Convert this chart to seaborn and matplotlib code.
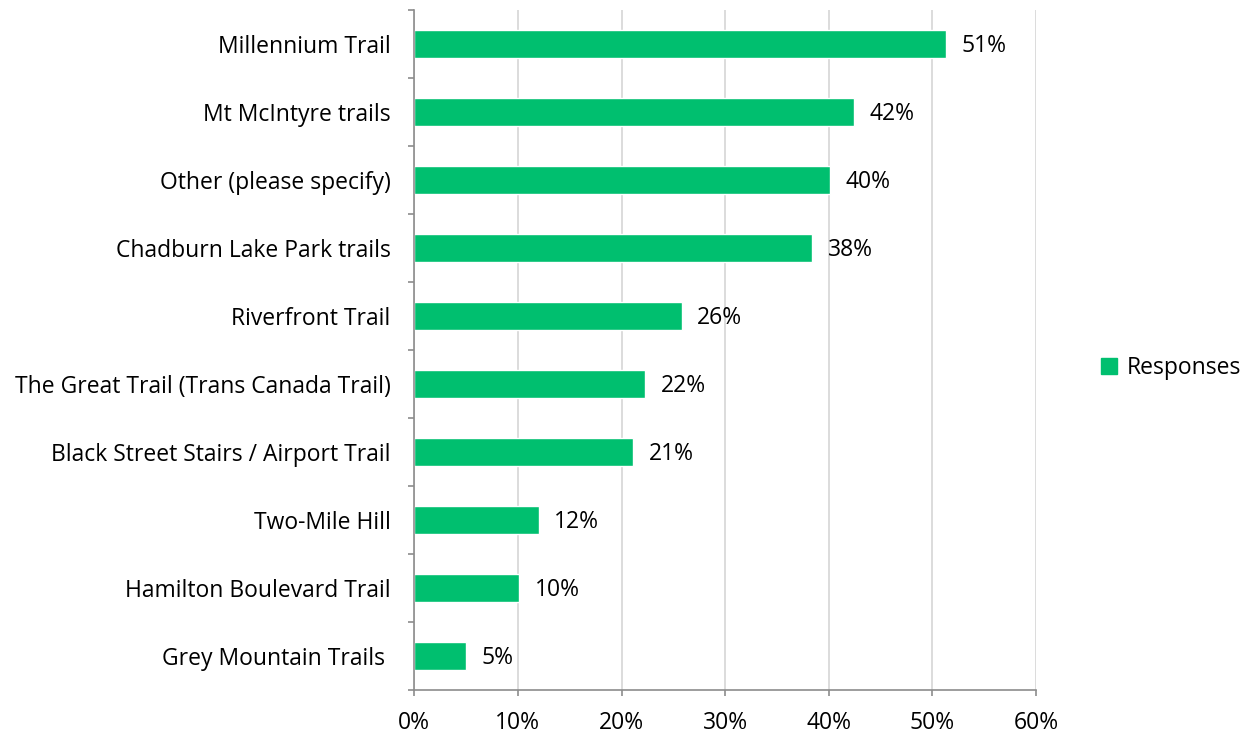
import matplotlib
matplotlib.use("Agg")
import matplotlib.pyplot as plt
import seaborn as sns
import pandas as pd
import numpy as np
from matplotlib.ticker import FixedLocator, PercentFormatter
from matplotlib.patches import Patch

categories = [
    "Millennium Trail",
    "Mt McIntyre trails",
    "Other (please specify)",
    "Chadburn Lake Park trails",
    "Riverfront Trail",
    "The Great Trail (Trans Canada Trail)",
    "Black Street Stairs / Airport Trail",
    "Two-Mile Hill",
    "Hamilton Boulevard Trail",
    "Grey Mountain Trails ",
]
responses = [51.3, 42.4, 40.1, 38.4, 25.8, 22.3, 21.1, 12.0, 10.1, 5.0]
x_ticks = [0, 10, 20, 30, 40, 50, 60]
series_name = "Responses"

sns.set_theme(style="white")
plt.rcParams["font.family"] = ["Open Sans", "DejaVu Sans"]

green = "#00BF6F"
df = pd.DataFrame({"cat": categories, "val": responses})

fig = plt.figure(figsize=(12.48, 7.36), dpi=100)
ax = fig.add_axes([0.332, 0.062, 0.498, 0.925])

sns.barplot(data=df, y="cat", x="val", orient="h", color=green, width=0.41,
            saturation=1, ax=ax, order=categories)

ax.set_xlim(0, 60)
ax.set_ylim(len(categories) - 0.5, -0.5)
ax.xaxis.set_major_locator(FixedLocator(x_ticks))
ax.xaxis.set_major_formatter(PercentFormatter(decimals=0))
ax.set_xlabel("")
ax.set_ylabel("")
ax.grid(axis="x", color="#D9D9D9", linewidth=1.3)
ax.set_axisbelow(True)

for s in ["top", "right"]:
    ax.spines[s].set_visible(False)
for s in ["left", "bottom"]:
    ax.spines[s].set_color("#8C8C8C")
    ax.spines[s].set_linewidth(1.2)

fs = 16.5
ax.tick_params(axis="x", which="major", length=4, color="#8C8C8C", width=1.2,
               labelsize=fs, labelcolor="black", pad=11, direction="out", bottom=True)
ax.tick_params(axis="y", which="major", length=0, labelsize=fs, labelcolor="black", pad=17)
ax.yaxis.set_minor_locator(FixedLocator(np.arange(-0.5, len(categories), 1.0)))
ax.tick_params(axis="y", which="minor", length=4, color="#8C8C8C", width=1.2, left=True,
               direction="out")

for i, v in enumerate(responses):
    ax.text(v + 1.5, i + 0.03, f"{v:.0f}%", va="center", ha="left", fontsize=fs, color="black")

handles = [Patch(facecolor=green, edgecolor=green, label=series_name)]
fig.legend(handles=handles, loc="center left", bbox_to_anchor=(0.866, 0.5),
           frameon=False, fontsize=fs, handlelength=0.7, handleheight=0.7,
           handletextpad=0.4, labelcolor="black")

fig.savefig("out.png", dpi=100)
